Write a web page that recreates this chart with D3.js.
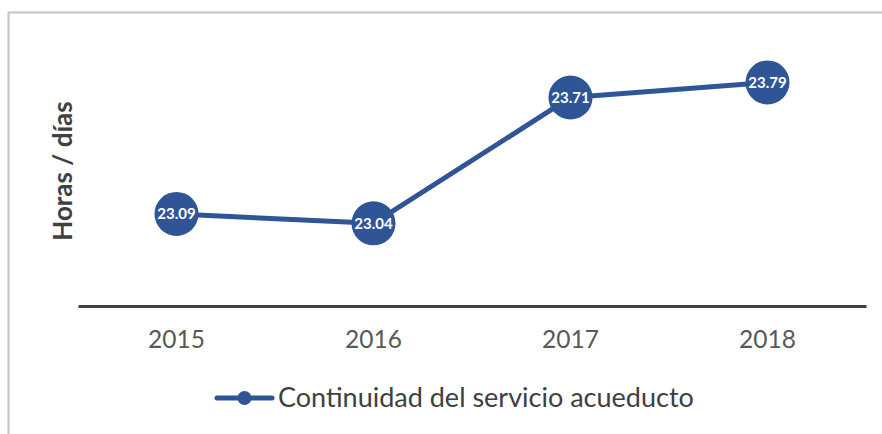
<!DOCTYPE html>
<html><head><meta charset="utf-8">
<script src="https://cdn.jsdelivr.net/npm/d3@7"></script>
<style>body{margin:0;background:#fff}svg{display:block}</style>
</head><body>
<svg id="chart" width="882" height="434"></svg>
<script>
const categories = ["2015", "2016", "2017", "2018"];
const values = [23.09, 23.04, 23.71, 23.79];
const seriesName = "Continuidad del servicio acueducto";
const yLabel = "Horas / días";
const yDomain = [22.6, 24.0];

const svg = d3.select("#chart");
const blue = "#2F5597";
const font = "Lato, 'Open Sans', sans-serif";

svg.append("rect").attr("x", 8.5).attr("y", 12.5).attr("width", 900).attr("height", 500)
  .attr("fill", "none").attr("stroke", "#c4c4c4").attr("stroke-width", 2);

const x = d3.scaleBand().domain(categories).range([78, 866]);
const y = d3.scaleLinear().domain(yDomain).range([306, 43]);

const xAxis = svg.append("g").attr("transform", "translate(0,306)")
  .call(d3.axisBottom(x).tickSize(0).tickPadding(25));
xAxis.select(".domain").attr("stroke", "#404040").attr("stroke-width", 3);
xAxis.selectAll("text").attr("font-family", font).attr("font-size", 24.5).attr("fill", "#595959");

svg.append("text").attr("transform", "translate(72,171) rotate(-90)")
  .attr("text-anchor", "middle").attr("font-family", font).attr("font-weight", "bold")
  .attr("font-size", 26).attr("fill", "#404040").text(yLabel);

const cx = d => x(d) + x.bandwidth() / 2;
const data = categories.map((c, i) => ({c, v: values[i]}));

svg.append("path").datum(data)
  .attr("d", d3.line().x(d => cx(d.c)).y(d => y(d.v)))
  .attr("fill", "none").attr("stroke", blue).attr("stroke-width", 5).attr("stroke-linejoin", "round");

const pts = svg.selectAll(".pt").data(data).join("g").attr("class", "pt")
  .attr("transform", d => `translate(${cx(d.c)},${y(d.v)})`);
pts.append("circle").attr("r", 22).attr("fill", blue);
pts.append("text").attr("text-anchor", "middle").attr("dy", "0.36em")
  .attr("font-family", font).attr("font-weight", "bold").attr("font-size", 15)
  .attr("fill", "#fff").text(d => d.v.toFixed(2));

const lg = svg.append("g").attr("transform", "translate(217,398)");
lg.append("line").attr("x1", 0).attr("x2", 55).attr("stroke", blue).attr("stroke-width", 5).attr("stroke-linecap", "round");
lg.append("circle").attr("cx", 27.5).attr("r", 7).attr("fill", blue);
lg.append("text").attr("x", 61).attr("dy", "0.35em").attr("font-family", font)
  .attr("font-size", 27).attr("fill", "#404040").text(seriesName);
</script>
</body></html>
